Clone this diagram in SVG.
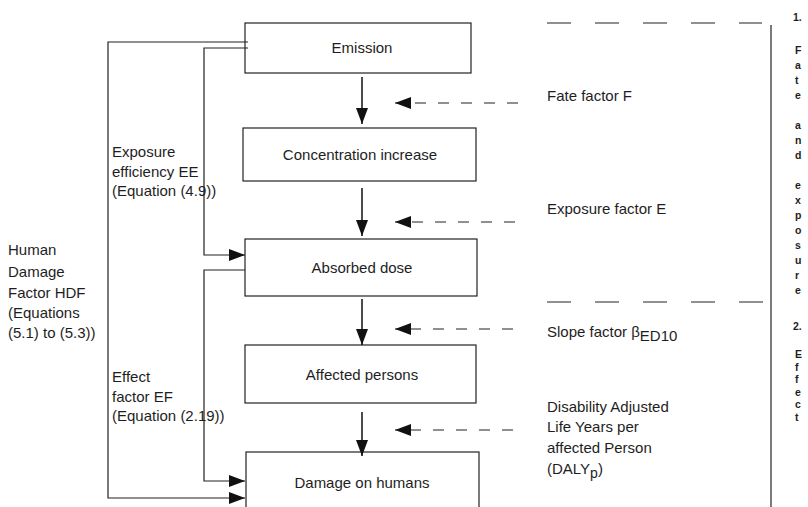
<svg xmlns="http://www.w3.org/2000/svg" width="808" height="507" viewBox="0 0 808 507">
  <defs>
    <style>
      .box { fill: #fff; stroke: #222; stroke-width: 1.2; }
      .t { font-family: "Liberation Sans", Arial, sans-serif; font-size: 15px; fill: #1e1e1e; }
      .c { text-anchor: middle; }
      .v { font-family: "Liberation Sans", Arial, sans-serif; font-size: 10.5px; font-weight: bold; fill: #1e1e1e; }
      .ln { fill: none; stroke: #222; stroke-width: 1.2; }
      .flow { fill: none; stroke: #111; stroke-width: 1.5; }
      .dash { fill: none; stroke: #222; stroke-width: 1.2; stroke-dasharray: 11 12; }
      .sep { fill: none; stroke: #222; stroke-width: 1.2; stroke-dasharray: 24 24; }
    </style>
    <marker id="ah" viewBox="0 0 16 12" refX="16" refY="6" markerWidth="16" markerHeight="12" orient="auto" markerUnits="userSpaceOnUse">
      <path d="M0,0 L16,6 L0,12 Z" fill="#111"/>
    </marker>
  </defs>

  <rect width="808" height="507" fill="#fff"/>

  <!-- chain of boxes -->
  <g id="emission">
    <rect class="box" x="245" y="23" width="226" height="50"/>
    <text class="t c" x="362" y="53">Emission</text>
  </g>
  <g id="concentration">
    <rect class="box" x="243" y="128" width="233" height="53"/>
    <text class="t c" x="360" y="160">Concentration increase</text>
  </g>
  <g id="absorbed">
    <rect class="box" x="245" y="239" width="232" height="57"/>
    <text class="t c" x="362" y="273">Absorbed dose</text>
  </g>
  <g id="affected">
    <rect class="box" x="245" y="345" width="231" height="58"/>
    <text class="t c" x="362" y="380">Affected persons</text>
  </g>
  <g id="damage">
    <rect class="box" x="246" y="452" width="233" height="70"/>
    <text class="t c" x="362" y="488">Damage on humans</text>
  </g>

  <!-- connectors -->
  <g id="connectors">
    <path class="flow" d="M362,77 V124" marker-end="url(#ah)"/>
    <path class="flow" d="M362,188 V236" marker-end="url(#ah)"/>
    <path class="flow" d="M362,299 V345" marker-end="url(#ah)"/>
    <path class="flow" d="M362,412 V456" marker-end="url(#ah)"/>

    <path class="dash" d="M518,103 H395" marker-end="url(#ah)"/>
    <path class="dash" d="M515,222 H395" marker-end="url(#ah)"/>
    <path class="dash" d="M513,329 H395" marker-end="url(#ah)"/>
    <path class="dash" d="M513,430 H395" marker-end="url(#ah)"/>

    <!-- human damage factor loop -->
    <path class="ln" d="M248,42 H108 V498 H245" marker-end="url(#ah)"/>
    <!-- exposure efficiency loop -->
    <path class="ln" d="M248,48 H204 V255 H245" marker-end="url(#ah)"/>
    <!-- effect factor loop -->
    <path class="ln" d="M245,270 H204 V481 H245" marker-end="url(#ah)"/>
  </g>

  <!-- factor labels -->
  <g id="left-labels">
    <text class="t" x="8" y="255">Human</text>
    <text class="t" x="8" y="277">Damage</text>
    <text class="t" x="8" y="298">Factor HDF</text>
    <text class="t" x="8" y="318">(Equations</text>
    <text class="t" x="8" y="338">(5.1) to (5.3))</text>

    <text class="t" x="112" y="157">Exposure</text>
    <text class="t" x="112" y="177">efficiency EE</text>
    <text class="t" x="112" y="196">(Equation (4.9))</text>

    <text class="t" x="112" y="382">Effect</text>
    <text class="t" x="112" y="402">factor EF</text>
    <text class="t" x="112" y="421">(Equation (2.19))</text>
  </g>

  <g id="right-labels">
    <text class="t" x="547" y="101">Fate factor F</text>
    <text class="t" x="547" y="214">Exposure factor E</text>
    <text class="t" x="547" y="337">Slope factor β<tspan dy="4">ED10</tspan></text>
    <text class="t" x="547" y="412">Disability Adjusted</text>
    <text class="t" x="547" y="432">Life Years per</text>
    <text class="t" x="547" y="453">affected Person</text>
    <text class="t" x="547" y="474">(DALY<tspan dy="4" font-size="14">p</tspan><tspan dy="-4">)</tspan></text>
  </g>

  <!-- stage separators -->
  <g id="stages">
    <path class="sep" d="M547,23 H762"/>
    <path class="sep" d="M547,302 H765"/>
    <path class="ln" d="M771,25 V507"/>
    <text class="v" x="793" y="21">1.</text>
    <text class="v" x="795" y="54">F</text>
    <text class="v" x="795" y="69">a</text>
    <text class="v" x="795" y="84">t</text>
    <text class="v" x="795" y="99">e</text>
    <text class="v" x="795" y="129">a</text>
    <text class="v" x="795" y="144">n</text>
    <text class="v" x="795" y="159">d</text>
    <text class="v" x="795" y="189">e</text>
    <text class="v" x="795" y="204">x</text>
    <text class="v" x="795" y="219">p</text>
    <text class="v" x="795" y="234">o</text>
    <text class="v" x="795" y="249">s</text>
    <text class="v" x="795" y="264">u</text>
    <text class="v" x="795" y="279">r</text>
    <text class="v" x="795" y="294">e</text>
    <text class="v" x="793" y="330">2.</text>
    <text class="v" x="795" y="358">E</text>
    <text class="v" x="795" y="370.5">f</text>
    <text class="v" x="795" y="383">f</text>
    <text class="v" x="795" y="395.5">e</text>
    <text class="v" x="795" y="408">c</text>
    <text class="v" x="795" y="420.5">t</text>
  </g>
</svg>
